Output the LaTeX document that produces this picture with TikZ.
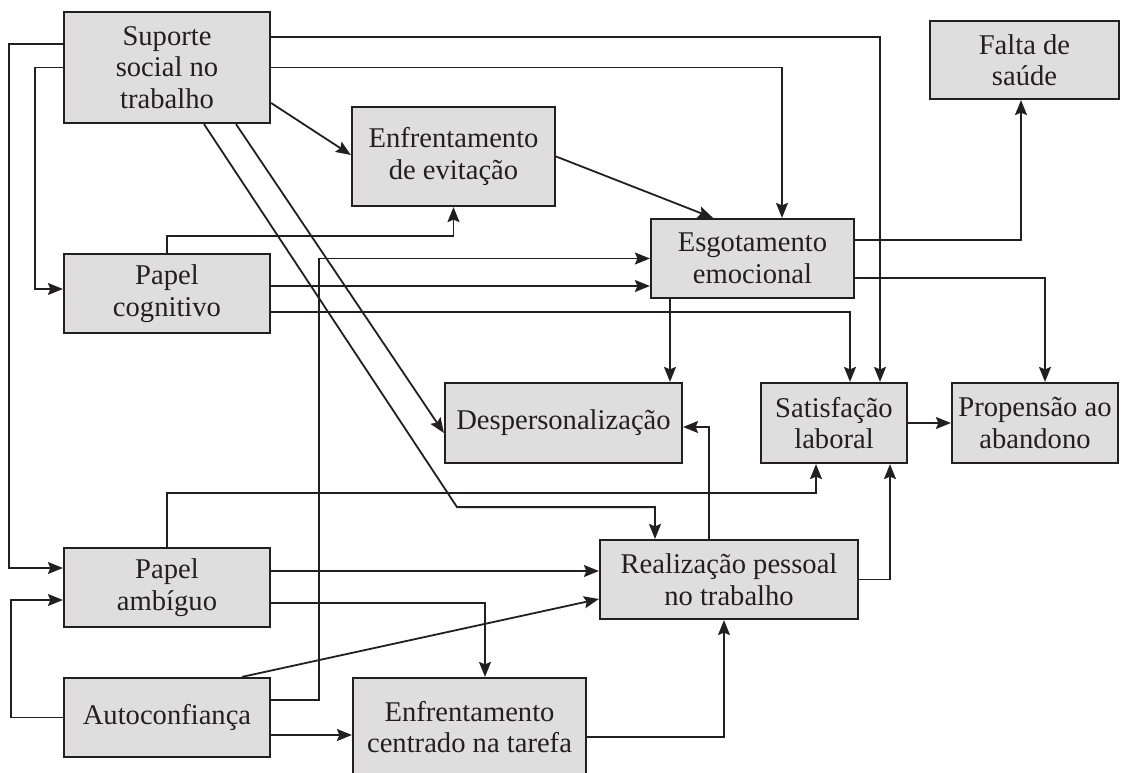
\documentclass[tikz,border=0pt]{standalone}
\usepackage{fontspec}
\setmainfont{Liberation Serif}
\usetikzlibrary{arrows.meta}
\definecolor{boxfill}{HTML}{DEDEDE}
\definecolor{inkc}{HTML}{231F20}
\begin{document}
\begin{tikzpicture}[x=1pt,y=-1pt,
  box/.style={draw=inkc, fill=boxfill, line width=2.2pt, inner sep=0pt,
    align=center, text=inkc, font=\fontsize{28.6}{31.5}\selectfont},
  arr/.style={draw=inkc, line width=1.8pt,
    -{Stealth[length=15pt,width=12pt,inset=2.5pt]}}]
\useasboundingbox (0,0) rectangle (1130,773);

% boxes
\node[box, minimum width=206pt, minimum height=111pt] (S)  at (167,67.5)   {Suporte\\social no\\trabalho};
\node[box, minimum width=203pt, minimum height=99pt]  (EV) at (453.5,156.5) {Enfrentamento\\de evitação};
\node[box, minimum width=203pt, minimum height=79pt]  (EE) at (752.5,258.5) {Esgotamento\\emocional};
\node[box, minimum width=189pt, minimum height=78pt]  (FS) at (1024.5,60)  {Falta de\\saúde};
\node[box, minimum width=206pt, minimum height=79pt]  (PC) at (167,293.5)  {Papel\\cognitivo};
\node[box, minimum width=237pt, minimum height=80pt]  (DP) at (563.5,423)  {Despersonalização};
\node[box, minimum width=146pt, minimum height=80pt]  (SL) at (834,423)    {Satisfação\\laboral};
\node[box, minimum width=166pt, minimum height=80pt]  (PA) at (1035,423)   {Propensão ao\\abandono};
\node[box, minimum width=206pt, minimum height=79pt]  (PB) at (167,587.5)  {Papel\\ambíguo};
\node[box, minimum width=258pt, minimum height=79pt]  (RP) at (729,579.5)  {Realização pessoal\\no trabalho};
\node[box, minimum width=206pt, minimum height=79pt]  (AC) at (167,717.5)  {Autoconfiança};
\node[box, minimum width=233pt, minimum height=98pt, text depth=0pt] (EC) at (469.5,727) {Enfrentamento\\centrado na tarefa};

% from Suporte social no trabalho
\draw[arr] ([yshift=30.5pt]S.east) -| ([xshift=46pt]SL.north);
\draw[arr] (S.east) -| ([xshift=29.5pt]EE.north);
\draw[arr] ([yshift=-35.5pt]S.east) -- ([yshift=1.5pt]EV.west);
\draw[arr] ([yshift=23.5pt]S.west) -- ++(-54,0) |- ([yshift=19.5pt]PB.west);
\draw[arr] (S.west) -- ++(-28,0) |- ([yshift=4.5pt]PC.west);
\draw[arr] ([xshift=69pt]S.south) -- ([yshift=-10pt]DP.west);
\draw[arr] ([xshift=37pt]S.south) -- ++(253,383) -| ([xshift=-74pt]RP.north);

% from Enfrentamento de evitação
\draw[arr] (EV.east) -- ([xshift=-39.5pt]EE.north);

% from Papel cognitivo
\draw[arr] (PC.north) -- ++(0,-17) -| (EV.south);
\draw[arr] ([yshift=7.5pt]PC.east) -- ([yshift=7.5pt]PC.east -| EE.west);
\draw[arr] ([yshift=-18.5pt]PC.east) -| ([xshift=16pt]SL.north);

% from Esgotamento emocional
\draw[arr] ([yshift=18.5pt]EE.east) -| ([xshift=-3.5pt]FS.south);
\draw[arr] ([yshift=-19.5pt]EE.east) -| ([xshift=10pt]PA.north);
\draw[arr] ([xshift=-82.5pt]EE.south) -- ([xshift=-82.5pt]EE.south |- DP.north);

% from Satisfação laboral
\draw[arr] (SL.east) -- (PA.west);

% from Realização pessoal no trabalho
\draw[arr] ([xshift=-20pt]RP.north) |- ([yshift=-4pt]DP.east);
\draw[arr] (RP.east) -| ([xshift=56pt]SL.south);

% from Papel ambíguo
\draw[arr] (PB.north) -- ++(0,-54) -| ([xshift=-18pt]SL.south);
\draw[arr] ([yshift=16.5pt]PB.east) -- ([yshift=16.5pt]PB.east -| RP.west);
\draw[arr] ([yshift=-15.5pt]PB.east) -| ([xshift=15.5pt]EC.north);

% from Autoconfiança
\draw[arr] (AC.west) -- ++(-52,0) |- ([yshift=-12.5pt]PB.west);
\draw[arr] ([yshift=17.5pt]AC.east) -- ++(48,0) |- (EE.west);
\draw[arr] ([yshift=-17.5pt]AC.east) -- ([yshift=-17.5pt]AC.east -| EC.west);
\draw[arr] ([xshift=75pt]AC.north) -- ([yshift=-19.5pt]RP.west);

% from Enfrentamento centrado na tarefa
\draw[arr] ([yshift=-10pt]EC.east) -| ([xshift=-5pt]RP.south);
\end{tikzpicture}
\end{document}
